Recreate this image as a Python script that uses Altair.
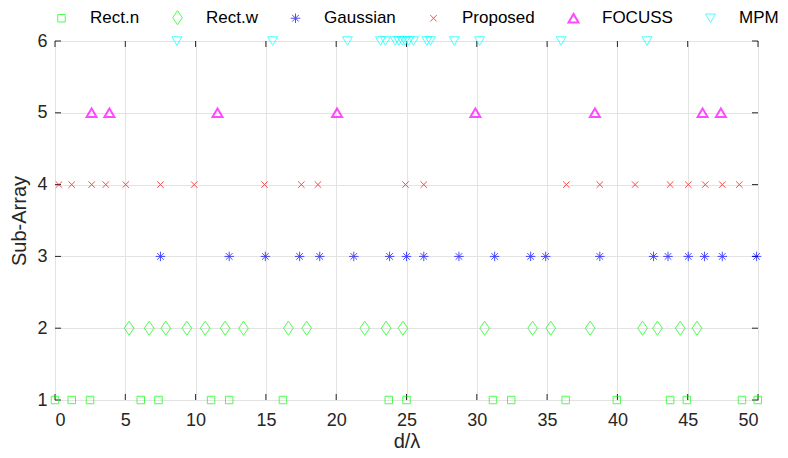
import altair as alt
import pandas as pd

series = ["Rect.n", "Rect.w", "Gaussian", "Proposed", "FOCUSS", "MPM"]
levels = [1, 2, 3, 4, 5, 6]
rect_n = [0, 1.19, 2.49, 6.1, 7.36, 11.1, 12.39, 16.21, 23.74, 25.0, 31.15, 32.45,
          36.32, 39.96, 43.75, 44.94, 48.86, 49.98]
rect_w = [5.27, 6.7, 7.88, 9.38, 10.68, 12.1, 13.41, 16.6, 17.9, 22.03, 23.55, 24.75,
          30.56, 33.97, 35.26, 38.06, 41.79, 42.85, 44.47, 45.66]
gaussian = [7.5, 12.39, 14.96, 17.4, 18.83, 21.25, 23.8, 25.0, 26.23, 28.73, 31.27,
            33.83, 34.9, 38.75, 42.57, 43.6, 45.04, 46.2, 47.46, 49.9]
proposed = [0.28, 1.19, 2.61, 3.61, 5.03, 7.5, 9.9, 14.9, 17.52, 18.7, 24.93, 26.23,
            36.37, 38.75, 41.26, 43.75, 45.04, 46.25, 47.46, 48.67]
focuss = [2.6, 3.87, 11.56, 20.06, 29.9, 38.4, 46.06, 47.36]
mpm = [8.67, 15.48, 20.8, 23.15, 23.5, 24.2, 24.45, 24.7, 24.9, 25.15, 25.5, 26.45,
       26.7, 28.4, 30.2, 36.0, 42.1]
x_ticks = [0, 5, 10, 15, 20, 25, 30, 35, 40, 45, 50]
y_ticks = [1, 2, 3, 4, 5, 6]

colors = ["#00ff00", "#00ff00", "#0000ff", "#ff0000", "#ff00ff", "#00ffff"]
shapes = [
    "M-1,-1L1,-1L1,1L-1,1Z",
    "M0,-1L0.68,0L0,1L-0.68,0Z",
    "M-1,0L1,0M0,-1L0,1M-0.7,-0.7L0.7,0.7M-0.7,0.7L0.7,-0.7",
    "M-1,-1L1,1M-1,1L1,-1",
    "M0,-0.85L1,0.85L-1,0.85Z",
    "M0,0.85L1,-0.85L-1,-0.85Z",
]
sizes = [56, 200, 90, 42, 100, 100]
widths = [1, 1, 1, 1, 2, 1]

rows = []
for name, lvl, xs in zip(series, levels, [rect_n, rect_w, gaussian, proposed, focuss, mpm]):
    for v in xs:
        rows.append({"d": v, "sub": lvl, "method": name})
df = pd.DataFrame(rows)

W, H = 703, 359
font = "Liberation Sans"
txt = "#262626"

xscale = alt.Scale(domain=[0, 50], nice=False)
yscale = alt.Scale(domain=[1, 6], nice=False)

points = alt.Chart(df).mark_point(filled=False).encode(
    x=alt.X("d:Q", scale=xscale,
            axis=alt.Axis(values=x_ticks, title="d/λ", grid=True, ticks=False, domain=False,
                          format="d", labelPadding=11, titlePadding=2)),
    y=alt.Y("sub:Q", scale=yscale,
            axis=alt.Axis(values=y_ticks, title="Sub-Array", grid=True, ticks=False, domain=False,
                          format="d", labelPadding=8, titlePadding=7)),
    color=alt.Color("method:N", scale=alt.Scale(domain=series, range=colors),
                    legend=alt.Legend(title=None, orient="none", legendX=-2, legendY=-32,
                                      direction="horizontal", columns=6, padding=0)),
    shape=alt.Shape("method:N", scale=alt.Scale(domain=series, range=shapes)),
    size=alt.Size("method:N", scale=alt.Scale(type="ordinal", domain=series, range=sizes),
                  legend=None),
    strokeWidth=alt.StrokeWidth("method:N",
                                scale=alt.Scale(type="ordinal", domain=series, range=widths),
                                legend=None),
)

xt = pd.DataFrame({"t": x_ticks})
yt = pd.DataFrame({"t": y_ticks})
tb = alt.Chart(xt).mark_rule(color=txt, strokeWidth=1).encode(
    x=alt.X("t:Q", scale=xscale), y=alt.value(H), y2=alt.value(H - 6))
tt = alt.Chart(xt).mark_rule(color=txt, strokeWidth=1).encode(
    x=alt.X("t:Q", scale=xscale), y=alt.value(0), y2=alt.value(6))
tl = alt.Chart(yt).mark_rule(color=txt, strokeWidth=1).encode(
    y=alt.Y("t:Q", scale=yscale), x=alt.value(0), x2=alt.value(6))
tr = alt.Chart(yt).mark_rule(color=txt, strokeWidth=1).encode(
    y=alt.Y("t:Q", scale=yscale), x=alt.value(W), x2=alt.value(W - 6))

chart = alt.layer(tb, tt, tl, tr, points).properties(
    width=W, height=H,
    autosize=alt.AutoSizeParams(type="none"),
    padding={"left": 47, "top": 33, "right": 22, "bottom": 50},
).configure_view(stroke=txt, strokeWidth=1).configure_axis(
    gridColor="#e3e3e3", gridWidth=1, labelFont=font, titleFont=font, labelColor=txt,
    titleColor=txt, labelFontSize=18, titleFontSize=20, titleFontWeight="normal",
).configure_legend(
    labelFont=font, labelFontSize=17, labelColor="#000000", symbolStrokeWidth=1,
    labelOffset=20, columnPadding=29, symbolSize=64,
)

chart.save("out.html", embed_options={"renderer": "svg", "actions": False})
